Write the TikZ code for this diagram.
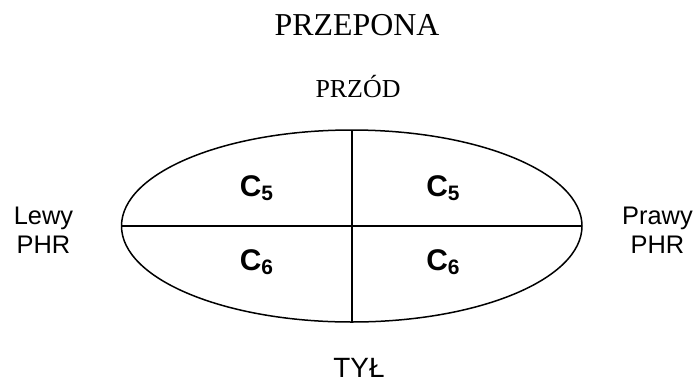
\documentclass[tikz,border=0pt]{standalone}
\usepackage{fontspec}
\setmainfont{Liberation Serif}
\setsansfont{Liberation Sans}
\usepackage{tikz}
\usetikzlibrary{positioning}

\newcommand{\cseg}[1]{{\fontsize{30}{32}\selectfont C}\raisebox{-4bp}{\fontsize{21}{22}\selectfont #1}}

\begin{document}
\begin{tikzpicture}[x=1bp, y=-1bp,
  titlelab/.style={font=\fontsize{32}{34}\selectfont, anchor=base, inner sep=0pt},
  sidelab/.style={font=\sffamily\fontsize{25.5}{30}\selectfont, anchor=base, inner sep=0pt, align=center},
  seglab/.style={font=\sffamily\bfseries, anchor=base, inner sep=0pt},
  wall/.style={line width=1.5bp, black},
]
\useasboundingbox (0,0) rectangle (700,384);

% Titles
\node[titlelab] (title) at (357,35) {PRZEPONA};
\node[titlelab, font=\fontsize{26}{28}\selectfont] (front) at (358,97) {PRZÓD};

% Ellipse split in four
\coordinate (ctr) at (351.75,226);
\draw[wall] (ctr) ellipse [x radius=230.25, y radius=96];
\coordinate (lft) at (121.5,226);
\coordinate (rgt) at (582,226);
\coordinate (top) at (351.75,130);
\coordinate (bot) at (351.75,322);
\draw[wall] (lft) -- (rgt);
\draw[wall] (top) -- (bot);

% Segments
\node[seglab] (c5l) at (256.5,196) {\cseg{5}};
\node[seglab] (c5r) at (443,196) {\cseg{5}};
\node[seglab] (c6l) at (256.5,270) {\cseg{6}};
\node[seglab] (c6r) at (443,270) {\cseg{6}};

% Sides
\node[sidelab] (left) at (43.5,224) {Lewy};
\node[sidelab] (leftb) at (43.5,253) {PHR};
\node[sidelab] (right) at (657.5,224) {Prawy};
\node[sidelab] (rightb) at (657.5,253) {PHR};
\node[sidelab, font=\sffamily\fontsize{28}{30}\selectfont] (back) at (359,377) {TYŁ};
\end{tikzpicture}
\end{document}
